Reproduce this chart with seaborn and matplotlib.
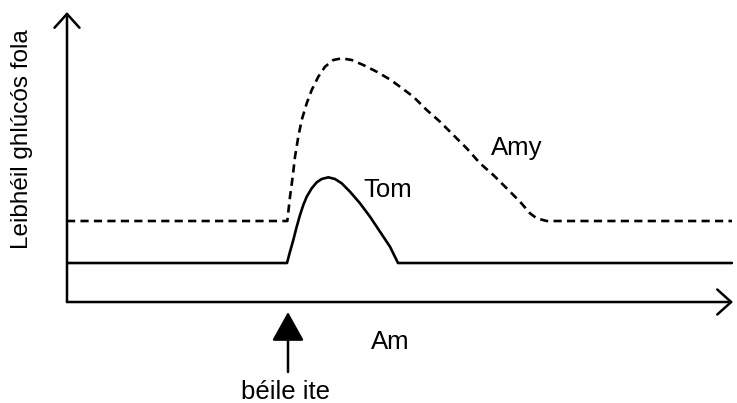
import matplotlib
matplotlib.use("Agg")
import matplotlib.pyplot as plt
import seaborn as sns
import pandas as pd

# Data (time in arbitrary units, glucose level in arbitrary units)
tom_t = [0, 220, 223, 226.3, 229.7, 233, 236.3, 239.7, 244.7, 249.7, 254.7, 261.3,
         268, 274.7, 283, 293, 303, 313, 323, 331, 665]
tom_y = [39, 39, 50.3, 62, 75.3, 87, 97, 105.3, 113.7, 119.7, 123, 124.7,
         123, 118.7, 110.3, 98.7, 85.3, 70.3, 55.3, 39, 39]
amy_t = [0, 220.3, 223, 225.7, 228, 231.3, 234.7, 239.7, 244.7, 251.3, 258, 266.3,
         274.7, 284.7, 296.3, 309.7, 323, 333, 346.3, 359.7, 373, 386.3, 399.7, 413,
         426.3, 439.7, 453, 463, 469.7, 479.7, 665]
amy_y = [81, 81, 105.3, 125.3, 145.3, 165.3, 182, 198.7, 212, 225.3, 235.3, 242,
         243.7, 242, 237, 230.3, 222.5, 215.3, 205.3, 192, 180.3, 167, 153.7, 138.7,
         127, 113.7, 100.3, 88.7, 83.7, 81, 81]

meal_t = 221
x_label = "Am"
y_label = "Leibhéil ghlúcós fola"
meal_label = "béile ite"
series_names = ["Tom", "Amy"]

sns.set_style("white")
plt.rcParams['font.family'] = ['Liberation Sans', 'DejaVu Sans']

fig = plt.figure(figsize=(7.37, 4.03), dpi=100)
ax = fig.add_axes([0.0909, 0.2506, 0.9037, 0.7196])

df_tom = pd.DataFrame({"t": tom_t, "y": tom_y})
df_amy = pd.DataFrame({"t": amy_t, "y": amy_y})
sns.lineplot(data=df_tom, x="t", y="y", ax=ax, color="black", lw=1.9, sort=False)
sns.lineplot(data=df_amy, x="t", y="y", ax=ax, color="black", lw=1.9, sort=False,
             dashes=False, linestyle=(0, (3.1, 2.0)))

ax.set_xlim(0, 666)
ax.set_ylim(0, 290)
for s in ax.spines.values():
    s.set_visible(False)
ax.set_xticks([])
ax.set_yticks([])
ax.set_xlabel("")
ax.set_ylabel("")

# Axis arrows
arrow_kw = dict(arrowstyle="->,head_length=0.5,head_width=0.45", color="black", lw=1.8,
                mutation_scale=20, shrinkA=0, shrinkB=0)
ax.annotate("", xy=(1, 0), xytext=(0, 0), xycoords="axes fraction",
            textcoords="axes fraction", arrowprops=arrow_kw, annotation_clip=False)
ax.annotate("", xy=(0, 1), xytext=(0, 0), xycoords="axes fraction",
            textcoords="axes fraction", arrowprops=arrow_kw, annotation_clip=False)

# Meal arrow
ax.annotate("", xy=(meal_t, -10), xytext=(meal_t, -70),
            arrowprops=dict(arrowstyle="-|>,head_length=0.9,head_width=0.5", color="black",
                            lw=1.8, mutation_scale=20, shrinkA=0, shrinkB=0),
            annotation_clip=False)

fs = 18.5
tc = "black"
ax.text(218, -97, meal_label, ha="center", va="baseline", fontsize=fs, color=tc, clip_on=False)
ax.text(323, -47, x_label, ha="center", va="baseline", fontsize=fs, color=tc, clip_on=False)
ax.text(321, 105, series_names[0], ha="center", va="baseline", fontsize=fs, color=tc)
ax.text(450, 147, series_names[1], ha="center", va="baseline", fontsize=fs, color=tc)
fig.text(22 / 737, 1 - 139 / 403, y_label, rotation=90, ha="center", va="center",
         fontsize=17.5, color=tc)

fig.savefig("out.png", dpi=100)
